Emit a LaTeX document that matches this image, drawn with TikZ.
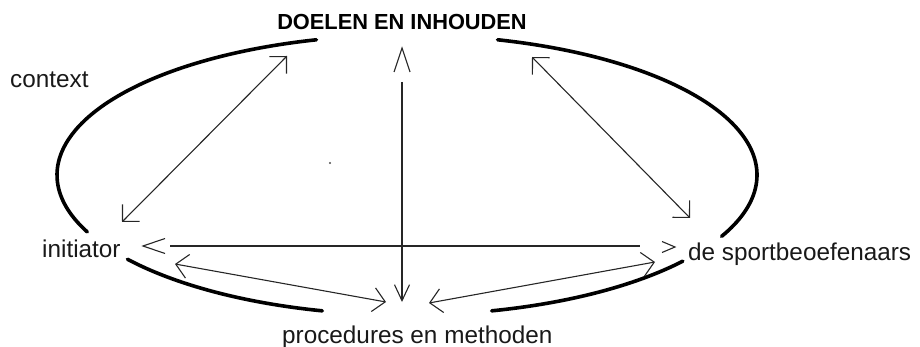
\documentclass[tikz,border=0pt]{standalone}
\usepackage{fontspec}
\setmainfont{Liberation Sans}
\usetikzlibrary{arrows.meta}
\begin{document}
\begin{tikzpicture}[x=1pt,y=-1pt,
  lbl/.style={inner sep=0pt,text=black!90,font=\fontsize{24.3}{28}\selectfont},
  ttl/.style={inner sep=0pt,font=\fontsize{21.8}{26}\selectfont\bfseries},
  rim/.style={line width=3.6pt,line cap=round},
  con/.style={line width=1.1pt,draw=black!85},
  loosehead/.style={con,line join=miter},
  dbl/.style={con,{Straight Barb[length=12pt,width=24pt]}-{Straight Barb[length=12pt,width=24pt]}},
  vert/.style={con,-{Straight Barb[length=16pt,width=15pt]}}
]
\useasboundingbox (0,0) rectangle (920,347);

% labels
\node[ttl,anchor=base] (doel) at (402,30) {DOELEN EN INHOUDEN};
\node[lbl,anchor=base west] (ctx) at (10,88) {context};
\node[lbl,anchor=base west] (ini) at (42,258) {initiator};
\node[lbl,anchor=base west] (spo) at (688,260) {de sportbeoefenaars};
\node[lbl,anchor=base west] (proc) at (282,343) {procedures en methoden};

% context rim (pieces of an ellipse)
\draw[rim] (407,175) ++(-105:350 and 140) arc[start angle=-105,end angle=-204,x radius=350,y radius=140];
\draw[rim] (407,175) ++(-75:350 and 140) arc[start angle=-75,end angle=26,x radius=350,y radius=140];
\draw[rim] (407,175) ++(143:350 and 140) arc[start angle=143,end angle=104,x radius=350,y radius=140];
\draw[rim] (407,175) ++(76:350 and 140) arc[start angle=76,end angle=38,x radius=350,y radius=140];

% connectors
\draw[dbl] ([shift={(80,-36)}]ini.base west) -- ([shift={(-115,26)}]doel.base);
\draw[dbl] ([shift={(130,27)}]doel.base) -- ([shift={(2,-42)}]spo.base west);
\draw[vert] ([shift={(0,52)}]doel.base) -- ([shift={(120,-41)}]proc.base west);
\draw[con] ([shift={(128,-12)}]ini.base west) -- ([shift={(-48,-14)}]spo.base west);
\draw[dbl] ([shift={(133,6)}]ini.base west) -- ([shift={(104,-41)}]proc.base west);
\draw[dbl] ([shift={(147,-40)}]proc.base west) -- ([shift={(-33,2)}]spo.base west);

% detached arrowheads
\draw[loosehead] ([shift={(-8,42)}]doel.base) -- ([shift={(0,18)}]doel.base) -- ([shift={(8,42)}]doel.base);
\draw[loosehead] ([shift={(123,-19.5)}]ini.base west) -- ([shift={(101,-12)}]ini.base west) -- ([shift={(123,-4.5)}]ini.base west);
\draw[loosehead] ([shift={(-26,-18.5)}]spo.base west) -- ([shift={(-13,-13)}]spo.base west) -- ([shift={(-26,-7.5)}]spo.base west);

% stray dot
\fill[black!70] (330,163) circle[radius=1.2];
\end{tikzpicture}
\end{document}
